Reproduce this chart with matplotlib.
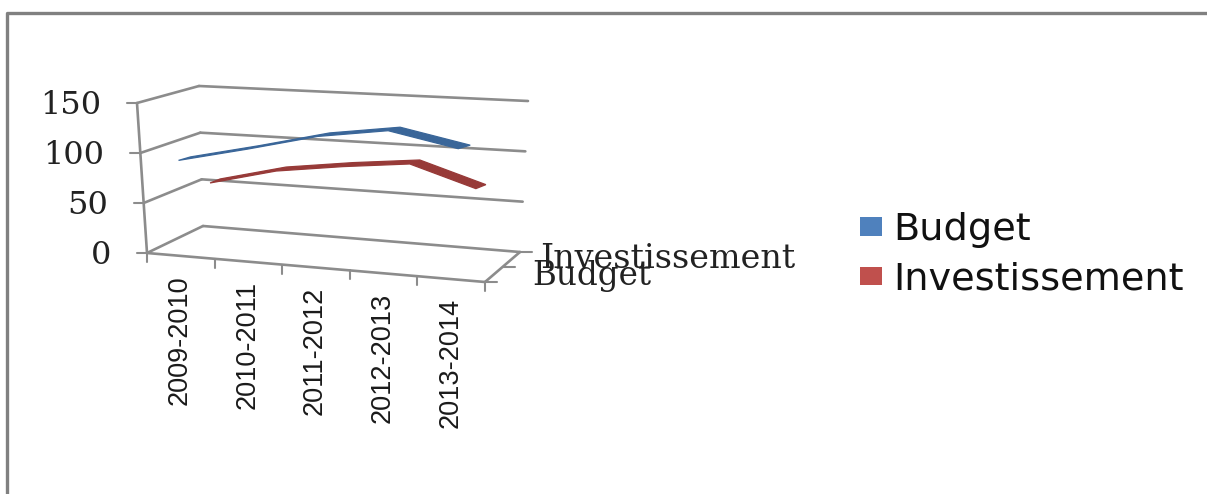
import matplotlib
matplotlib.use('Agg')
import matplotlib.pyplot as plt
from matplotlib.patches import Patch
import numpy as np

categories = ['2009-2010', '2010-2011', '2011-2012', '2012-2013', '2013-2014']
budget = [94, 110, 127, 137, 124]
investissement = [59, 76, 85, 92, 72]
y_ticks = [0, 50, 100, 150]
Y_MAX = 150

BLUE = '#4F81BD'
RED = '#C0504D'
BLUE_DARK = '#3A6699'
RED_DARK = '#973A38'
GRAY = '#8C8C8C'

# corners of the 3d box in pixels: [depth][side][bottom/top]
CORNERS = np.array([
    [[[147, 253], [137, 103]], [[485, 282], [493, 125]]],
    [[[203, 226], [199, 86]], [[520, 252], [528, 101]]],
], dtype=float)


def project(x, d, v):
    # x and d go 0 to 1 along the category and depth axes
    t = v / Y_MAX
    front = (1 - x) * ((1 - t) * CORNERS[0, 0, 0] + t * CORNERS[0, 0, 1]) + x * ((1 - t) * CORNERS[0, 1, 0] + t * CORNERS[0, 1, 1])
    back = (1 - x) * ((1 - t) * CORNERS[1, 0, 0] + t * CORNERS[1, 0, 1]) + x * ((1 - t) * CORNERS[1, 1, 0] + t * CORNERS[1, 1, 1])
    return (1 - d) * front + d * back


def edge(ax, a, b, lw=1.9):
    ax.plot([a[0], b[0]], [a[1], b[1]], color=GRAY, lw=lw, solid_capstyle='round', zorder=1)


def ribbon(ax, values, depth, shift, color):
    n = len(values)
    pts = np.array([project((i + 0.5) / n, depth, values[i]) for i in range(n)])
    upper = pts + np.array(shift)
    poly = np.vstack([pts, upper[::-1]])
    ax.fill(poly[:, 0], poly[:, 1], color=color, lw=0.9, zorder=3)


fig = plt.figure(figsize=(12.07, 4.94), dpi=100)
ax = fig.add_axes([0, 0, 1, 1])
ax.set_xlim(0, 1207)
ax.set_ylim(494, 0)
ax.axis('off')

# outer frame of the pasted chart
ax.plot([7, 7, 1207], [494, 13, 13], color='#808080', lw=2.4, zorder=1)

# walls and floor
for v in y_ticks:
    edge(ax, project(0, 0, v), project(0, 1, v))
    edge(ax, project(0, 1, v), project(1, 1, v))
    edge(ax, project(0, 0, v), project(0, 0, v) + np.array([-10, 0]), lw=1.5)
    p = project(0, 0, v)
    ax.text(p[0] - 36, p[1] + 2, str(v), ha='right', va='center',
            family='DejaVu Serif', fontsize=23, color='#222222')
edge(ax, project(0, 0, 0), project(0, 0, Y_MAX))
edge(ax, project(0, 0, 0), project(1, 0, 0))
edge(ax, project(1, 0, 0), project(1, 1, 0))

for i in range(len(categories) + 1):
    p = project(i / len(categories), 0, 0)
    edge(ax, p, p + np.array([0, 9]), lw=1.5)
for d in [0, 0.5, 1]:
    p = project(1, d, 0)
    edge(ax, p, p + np.array([12, 0]), lw=1.5)

# series, the back one first
ribbon(ax, investissement, 0.58, (10, -4), RED_DARK)
ribbon(ax, budget, 0.05, (12, -3.5), BLUE_DARK)

for i, cat in enumerate(categories):
    p = project((i + 0.5) / len(categories), 0, 0)
    ax.text(p[0] - 1, p[1] + 19, cat, rotation=90, ha='center', va='top',
            family='Liberation Sans', fontsize=19.5, color='#1a1a1a')

# depth axis labels
ax.text(540, 259, 'Investissement', ha='left', va='center', family='DejaVu Serif', fontsize=24, color='#222222', zorder=4)
ax.text(532, 276, 'Budget', ha='left', va='center', family='DejaVu Serif', fontsize=23.5, color='#222222', zorder=4)

handles = [Patch(facecolor=BLUE, lw=0, label='Budget'), Patch(facecolor=RED, lw=0, label='Investissement')]
ax.legend(handles=handles, loc='center left', bbox_to_anchor=(860 / 1207, 1 - 255 / 494), frameon=False,
          prop={'family': 'DejaVu Sans', 'size': 27.5}, handlelength=0.58, handleheight=0.36,
          handletextpad=0.29, labelspacing=0.36, borderpad=0, borderaxespad=0, labelcolor='#111111')

fig.savefig('out.png', dpi=100)
